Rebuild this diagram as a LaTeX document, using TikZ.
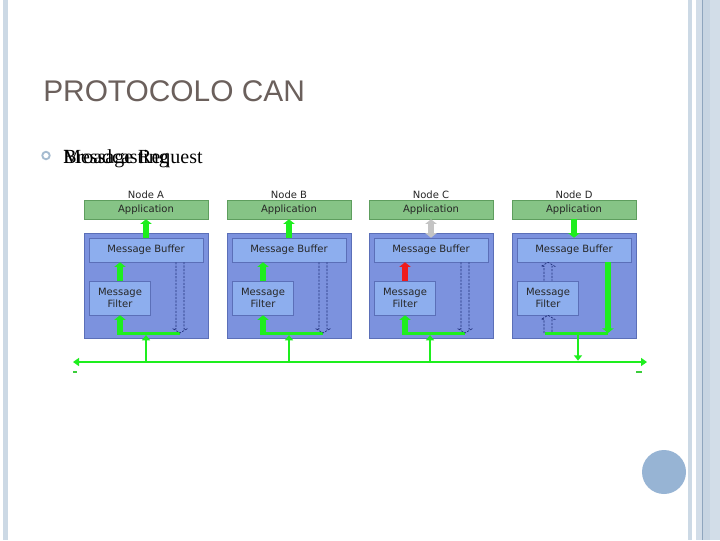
\documentclass[tikz,border=0pt]{standalone}
\usepackage{fontspec}
\setmainfont{Liberation Serif}
\newfontfamily\titlefont{Liberation Sans}
\newfontfamily\dvfont{DejaVu Sans}
\usetikzlibrary{arrows.meta,calc}
\definecolor{stripeA}{HTML}{CCD9E5}
\definecolor{stripeB}{HTML}{D2DDE8}
\definecolor{stripeC}{HTML}{C7D5E2}
\definecolor{stripeLine}{HTML}{8FA6BE}
\definecolor{titlecol}{HTML}{6B605C}
\definecolor{bulletcol}{HTML}{A5BBD0}
\definecolor{circlecol}{HTML}{97B4D4}
\definecolor{outerblue}{HTML}{7C92DE}
\definecolor{innerblue}{HTML}{8DAEEE}
\definecolor{blueborder}{HTML}{5B6FB8}
\definecolor{appgreen}{HTML}{86C486}
\definecolor{appborder}{HTML}{5E9E5E}
\definecolor{brightgreen}{HTML}{1EEE1E}
\definecolor{redarrow}{HTML}{EE1C1C}
\definecolor{grayarrow}{HTML}{C4C4C4}
\definecolor{dashblue}{HTML}{1F2F7A}
\newcommand\hollowdown[2]{\draw[hollow] let \p1=(#1),\p2=(#2) in (\x2-3pt,\y1) -- (\x2-3pt,\y2+3pt) -- (\x2-5pt,\y2+3pt) -- (\x2,\y2) -- (\x2+5pt,\y2+3pt) -- (\x2+3pt,\y2+3pt) -- (\x2+3pt,\y1);}
\newcommand\hollowup[2]{\draw[hollow] let \p1=(#1),\p2=(#2) in (\x2-3pt,\y1) -- (\x2-3pt,\y2-3pt) -- (\x2-5pt,\y2-3pt) -- (\x2,\y2) -- (\x2+5pt,\y2-3pt) -- (\x2+3pt,\y2-3pt) -- (\x2+3pt,\y1);}
\begin{document}
\begin{tikzpicture}[x=0.75pt,y=-0.75pt,
  lbl/.style={font=\dvfont\fontsize{7.5}{9}\selectfont, text=black!85, inner sep=0},
  appbox/.style={draw=appborder, fill=appgreen, minimum width=93pt, minimum height=14.25pt, inner sep=0, lbl},
  outbox/.style={draw=blueborder, fill=outerblue, minimum width=93pt, minimum height=78.75pt, inner sep=0},
  bufbox/.style={draw=blueborder, fill=innerblue, minimum width=85.5pt, minimum height=18pt, inner sep=0, lbl},
  filbox/.style={draw=blueborder, fill=innerblue, minimum width=45.75pt, minimum height=25.5pt, inner sep=0, lbl, align=center},
  fat/.style={line width=4.5pt, -{Triangle[length=3.5pt,width=8.5pt]}},
  fatboth/.style={line width=4.5pt, {Triangle[length=3.5pt,width=8.5pt]}-{Triangle[length=3.5pt,width=8.5pt]}},
  hline/.style={draw=brightgreen, line width=2.25pt},
  hollow/.style={draw=dashblue, line width=0.5pt, dash pattern=on 1.6pt off 1pt},
  tap/.style={draw=brightgreen, line width=1.2pt, -{Triangle[length=4pt,width=6pt]}},
  busline/.style={draw=brightgreen, line width=1.6pt, {Triangle[length=4.5pt,width=6pt]}-{Triangle[length=4.5pt,width=6pt]}}
]
\useasboundingbox (0,0) rectangle (720,540);
\fill[white] (0,0) rectangle (720,540);
% side stripes
\fill[stripeA] (3,0) rectangle (8,540);
\fill[stripeA] (688,0) rectangle (692,540);
\fill[stripeB] (696,0) rectangle (720,540);
\fill[stripeC] (703,0) rectangle (710,540);
\fill[stripeLine] (702,0) rectangle (703,540);
% title and bullet
\node[anchor=base west, inner sep=0, text=titlecol, font=\titlefont\fontsize{22.4}{26}\selectfont] (title) at (43,101) {PROTOCOLO CAN};
\draw[bulletcol, line width=1.4pt] (46,155.5) circle[radius=2.8pt];
\node[anchor=base west, inner sep=0, font=\fontsize{15}{18}\selectfont] (t1) at (63,163) {Broadcasting};
\node[anchor=base west, inner sep=0, font=\fontsize{15}{18}\selectfont] (t2) at (63,163) {Message Request};
% blue circle
\fill[circlecol] (664,472) circle[radius=16.5pt];
% CAN nodes
\foreach \L/\n in {84/A,227/B,369/C,512/D}{
  \node[lbl] (lab\n) at (\L+62,195) {Node \n};
  \node[appbox] (app\n) at (\L+62,209.5) {Application};
  \node[outbox] (out\n) at (\L+62,285.5) {};
  \node[bufbox] (buf\n) at (\L+62,250) {Message Buffer};
  \node[filbox] (fil\n) at (\L+36,298) {Message\\Filter};
  \coordinate (bot\n) at (\L+36,334.5);
  \coordinate (hl\n) at (\L+33,333);
  \coordinate (hr\n) at (\L+96,333);
}
% horizontal internal lines
\foreach \n in {A,B,C,D}{ \draw[hline] (hl\n) -- (hr\n); }
% Node A
\draw[fat, brightgreen] (botA) -- (filA.south);
\draw[fat, brightgreen] (filA.north) -- (filA.north |- bufA.south);
\draw[fat, brightgreen] (bufA.north) -- (appA.south);
\hollowdown{bufA.south -| hrA}{hrA}
% Node B
\draw[fat, brightgreen] (botB) -- (filB.south);
\draw[fat, brightgreen] (filB.north) -- (filB.north |- bufB.south);
\draw[fat, brightgreen] (bufB.north) -- (appB.south);
\hollowdown{bufB.south -| hrB}{hrB}
% Node C
\draw[fat, brightgreen] (botC) -- (filC.south);
\draw[fat, redarrow] (filC.north) -- (filC.north |- bufC.south);
\draw[fatboth, grayarrow] (bufC.north) -- (appC.south);
\hollowdown{bufC.south -| hrC}{hrC}
% Node D
\draw[fat, brightgreen] (appD.south) -- (bufD.north);
\draw[fat, brightgreen] (bufD.south -| hrD) -- (hrD);
\hollowup{filD.south |- hlD}{filD.south}
\hollowup{filD.north}{filD.north |- bufD.south}
% bus
\coordinate (busL) at (73,362);
\coordinate (busR) at (647,362);
\draw[busline] (busL) -- (busR);
\coordinate (tapA) at (146,362);
\coordinate (tapB) at (289,362);
\coordinate (tapC) at (430,362);
\coordinate (tapD) at (578,362);
\draw[tap] (tapA) -- ([yshift=-1.5pt]tapA |- hlA);
\draw[tap] (tapB) -- ([yshift=-1.5pt]tapB |- hlB);
\draw[tap] (tapC) -- ([yshift=-1.5pt]tapC |- hlC);
\draw[tap, shorten >=1pt] (tapD |- hlD) -- (tapD);
% faint ticks under the bus
\draw[brightgreen!70!gray, line width=0.8pt] (73,372) -- (77,372);
\draw[brightgreen!70!gray, line width=0.8pt] (636,372) -- (642,372);
\end{tikzpicture}
\end{document}
